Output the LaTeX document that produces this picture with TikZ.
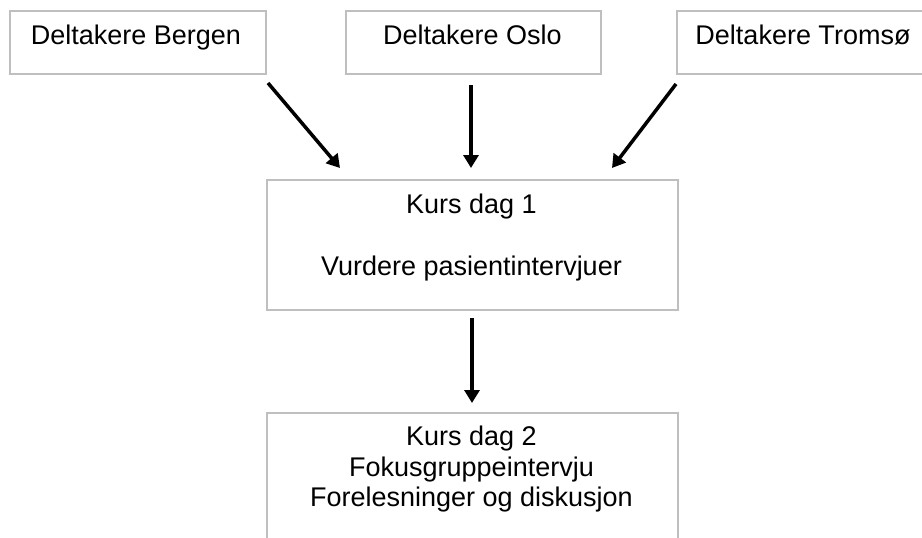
\documentclass[tikz,border=0pt]{standalone}
\usepackage{fontspec}
\setmainfont{Liberation Sans}
\usetikzlibrary{arrows.meta}
\definecolor{boxgray}{RGB}{191,191,191}
\begin{document}
\begin{tikzpicture}[x=1pt,y=-1pt,
  box/.style={draw=boxgray,line width=1.5pt,inner sep=0pt,anchor=north west},
  txt/.style={anchor=base,inner sep=0pt,font=\fontsize{27}{30.6}\selectfont},
  arr/.style={line width=3.5pt,-{Triangle[length=13pt,width=15pt]}}]
\useasboundingbox (0,0) rectangle (922,538);
\clip (0,0) rectangle (922,538);
\fill[white] (0,0) rectangle (922,538);
% boxes
\node[box,minimum width=256pt,minimum height=63pt] (bergen) at (9,10) {};
\node[box,minimum width=255pt,minimum height=63pt] (oslo) at (345,10) {};
\node[box,minimum width=255pt,minimum height=63pt] (tromso) at (676,10) {};
\node[box,minimum width=411pt,minimum height=130pt] (kurs1) at (266,179) {};
\node[box,minimum width=411pt,minimum height=140pt] (kurs2) at (266,412) {};
% texts
\node[txt] (tb) at (136,44) {Deltakere Bergen};
\node[txt] (to) at (472.5,44) {Deltakere Oslo};
\node[txt] (tt) at (803,44) {Deltakere Tromsø};
\node[txt] (k1a) at (471.5,213) {Kurs dag 1};
\node[txt] (k1b) at (471.5,275) {Vurdere pasientintervjuer};
\node[txt] (k2a) at (471.5,445) {Kurs dag 2};
\node[txt] (k2b) at (471.5,476) {Fokusgruppeintervju};
\node[txt] (k2c) at (471.5,506) {Forelesninger og diskusjon};
% arrow end points
\coordinate (b1) at (268,83);
\coordinate (b2) at (340,168);
\coordinate (o1) at (471,85);
\coordinate (o2) at (471,168);
\coordinate (t1) at (676,84);
\coordinate (t2) at (612,168);
\coordinate (k1) at (472,318);
\coordinate (k2) at (472,403);
\draw[arr] (b1) -- (b2);
\draw[arr] (o1) -- (o2);
\draw[arr] (t1) -- (t2);
\draw[arr] (k1) -- (k2);
\end{tikzpicture}
\end{document}
